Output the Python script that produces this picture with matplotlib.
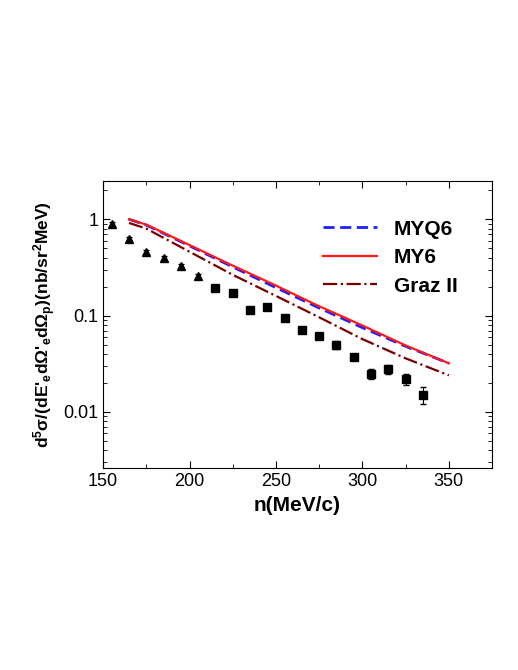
import matplotlib
matplotlib.use("Agg")
import matplotlib.pyplot as plt
from matplotlib.ticker import LogLocator, NullFormatter, MultipleLocator

plt.rcParams['font.family'] = ['Liberation Sans', 'DejaVu Sans']
plt.rcParams['mathtext.fontset'] = 'custom'
plt.rcParams['mathtext.rm'] = 'Liberation Sans:bold'
plt.rcParams['mathtext.it'] = 'Liberation Sans:bold'
plt.rcParams['mathtext.bf'] = 'Liberation Sans:bold'

tri_x = [155, 165, 175, 185, 195, 205]
tri_y = [0.90, 0.62, 0.456, 0.40, 0.33, 0.26]
tri_err = [0.04, 0.03, 0.02, 0.02, 0.015, 0.012]
sq_x = [215, 225, 235, 245, 255, 265, 275, 285, 295, 305, 315, 325, 335]
sq_y = [0.194, 0.171, 0.113, 0.122, 0.095, 0.071, 0.062, 0.050, 0.037, 0.025, 0.028, 0.022, 0.015]
sq_err = [0.006, 0.005, 0.004, 0.005, 0.004, 0.003, 0.003, 0.005, 0.002, 0.003, 0.003, 0.003, 0.003]

line_x = [165, 175, 200, 225, 250, 275, 300, 325, 350]
myq6 = [1.0, 0.87, 0.53, 0.32, 0.195, 0.12, 0.075, 0.048, 0.032]
my6 = [1.0, 0.88, 0.54, 0.33, 0.205, 0.125, 0.079, 0.049, 0.032]
graz = [0.915, 0.80, 0.46, 0.265, 0.16, 0.096, 0.057, 0.036, 0.024]

fig = plt.figure(figsize=(5.18, 6.7), dpi=100)
ax = fig.add_axes([0.199, 0.301, 0.751, 0.429])
ax.plot(line_x, myq6, '--', color='#1f1fff', lw=2, label='MYQ6', dashes=(4, 2))
ax.plot(line_x, my6, '-', color='#ff1a1a', lw=1.6, label='MY6')
ax.plot(line_x, graz, '-.', color='#7a0000', lw=1.6, label='Graz II')
ax.errorbar(tri_x, tri_y, yerr=tri_err, fmt='^', color='black', ms=6, capsize=2, lw=0.8)
ax.errorbar(sq_x, sq_y, yerr=sq_err, fmt='s', color='black', ms=5.5, capsize=2, lw=0.8)

ax.set_yscale('log')
ax.set_xlim(150, 375)
ax.set_ylim(0.0026, 2.5)
ax.set_yticks([0.01, 0.1, 1])
ax.set_yticklabels(['0.01', '0.1', '1'])
ax.yaxis.set_minor_locator(LogLocator(subs=range(2, 10)))
ax.yaxis.set_minor_formatter(NullFormatter())
ax.xaxis.set_major_locator(MultipleLocator(50))
ax.xaxis.set_minor_locator(MultipleLocator(25))
ax.tick_params(which='both', direction='in', top=True, right=True, labelsize=13)
ax.tick_params(which='major', length=5)
ax.tick_params(which='minor', length=3)
ax.set_xlabel('n(MeV/c)', fontsize=15, fontweight='bold')
ax.set_ylabel(r"d$^5\sigma$/(dE'$_e$d$\Omega$'$_e$d$\Omega_p$)(nb/sr$^2$MeV)", fontsize=12.5, fontweight='bold')
ax.legend(loc='upper right', frameon=False, prop={'weight': 'bold', 'size': 15},
          handlelength=2.6, labelspacing=0.45, bbox_to_anchor=(0.96, 0.93))
fig.savefig('out.png', dpi=100)
